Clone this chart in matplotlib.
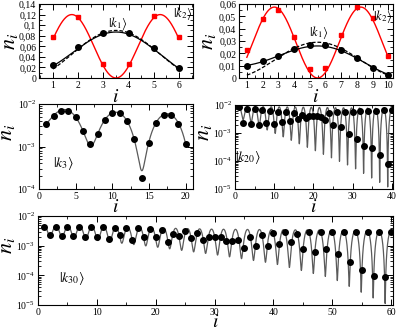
import numpy as np
import matplotlib
matplotlib.use("Agg")
import matplotlib.pyplot as plt
from matplotlib.ticker import FuncFormatter, MultipleLocator, LogLocator, NullFormatter

plt.rcParams['font.family'] = 'serif'
plt.rcParams['font.serif'] = ['Liberation Serif', 'DejaVu Serif']
plt.rcParams['mathtext.fontset'] = 'stix'

# --- data ---
i6 = np.arange(1, 7)
k1_n6 = [0.024, 0.058, 0.085, 0.085, 0.056, 0.018]
k2_n6 = [0.078, 0.115, 0.027, 0.027, 0.117, 0.077]

i10 = np.arange(1, 11)
k1_n10 = [0.0099, 0.0135, 0.018, 0.0237, 0.027, 0.027, 0.0231, 0.016, 0.0083, 0.0022]
k2_n10 = [0.0223, 0.0479, 0.0548, 0.0333, 0.0072, 0.0085, 0.0347, 0.0575, 0.049, 0.018]

i20 = np.arange(1, 21)
k3_n20 = [3.3e-3, 5.3e-3, 7.0e-3, 7.0e-3, 4.9e-3, 2.3e-3, 1.15e-3, 2.0e-3, 4.1e-3, 6.0e-3,
          6.0e-3, 3.9e-3, 1.5e-3, 1.85e-4, 1.2e-3, 3.6e-3, 5.5e-3, 5.5e-3, 3.3e-3, 1.15e-3]

i40 = np.arange(1, 41)
k20_n40 = [8.2e-3, 2.2e-3, 7.4e-3, 2.1e-3, 7.4e-3, 2.0e-3, 6.6e-3, 2.2e-3, 6.2e-3, 2.1e-3,
           5.7e-3, 2.4e-3, 5.6e-3, 2.7e-3, 5.0e-3, 3.2e-3, 4.5e-3, 3.3e-3, 4.0e-3, 4.1e-3,
           4.2e-3, 3.7e-3, 2.8e-3, 5.3e-3, 2.0e-3, 5.5e-3, 1.6e-3, 5.7e-3, 9.0e-4, 5.8e-3,
           6.0e-4, 6.0e-3, 3.5e-4, 6.2e-3, 2.8e-4, 6.3e-3, 1.6e-4, 6.4e-3, 8.0e-5, 6.5e-3]

i60 = np.arange(1, 61)
k30_n60 = [4.3e-3, 2.3e-3, 4.4e-3, 2.1e-3, 4.4e-3, 2.1e-3, 4.3e-3, 2.0e-3, 4.3e-3, 1.9e-3,
           4.3e-3, 1.7e-3, 4.0e-3, 2.3e-3, 3.9e-3, 1.6e-3, 4.0e-3, 1.9e-3, 3.6e-3, 1.9e-3,
           3.3e-3, 1.3e-3, 2.4e-3, 2.2e-3, 3.2e-3, 1.8e-3, 2.6e-3, 1.55e-3, 2.0e-3, 2.0e-3,
           2.0e-3, 1.45e-3, 1.45e-3, 1.5e-3, 8.3e-4, 2.0e-3, 1.0e-3, 2.3e-3, 9.5e-4, 2.7e-3,
           1.1e-3, 2.9e-3, 1.35e-3, 2.5e-3, 7.6e-4, 2.9e-3, 6.3e-4, 2.9e-3, 7.6e-4, 2.9e-3,
           5.3e-4, 2.9e-3, 2.8e-4, 2.9e-3, 1.55e-4, 2.9e-3, 9.3e-5, 2.9e-3, 8.5e-5, 2.9e-3]

# theory curves: peak / dip envelopes (anchor position, value)
tl_peak = ([0, 7], [0.087, 0.087]);  tl_dip = ([0, 7], [0.009, 0.001])
tl_red_amp, tl_dash_amp = 0.12, 0.09
tr_peak = ([0, 11], [0.026, 0.026]); tr_dip = ([0, 11], [0.0098, 0.0])
tr_red_amp, tr_dash_amp = 0.0575, 0.029
k3_peak = ([0, 3.5, 10.5, 17.5, 21], [7.6e-3, 7.4e-3, 6.4e-3, 5.9e-3, 5.7e-3])
k3_dip = ([0, 7, 14, 21], [2.8e-3, 1.05e-3, 2.7e-4, 5e-5])
k20_peak = ([0, 41], [9e-3, 7.5e-3])
k20_dip = ([0, 10, 20, 30, 41], [4e-3, 1e-3, 2.5e-4, 6e-5, 8e-6])
k30_peak = ([0, 30, 61], [4.8e-3, 3.6e-3, 3.2e-3])
k30_dip = ([0, 10, 20, 30, 40, 50, 61], [2.2e-3, 1.5e-3, 9e-4, 5e-4, 2.5e-4, 8e-5, 7e-6])


def env(x, anchors, log=True):
    xs, vs = anchors
    if log:
        return np.exp(np.interp(x, xs, np.log(vs)))
    return np.interp(x, xs, vs)


def theory(x, k, N, peak, dip, log=True):
    s = np.sin(k * np.pi * x / (N + 1)) ** 2
    return env(x, peak, log) * s + env(x, dip, log) * (1 - s)


def comma(v, pos):
    return ('%g' % round(v, 4)).replace('.', ',')


def style(ax, xlab_y, ylab_x, ylab_y, log=False):
    ax.tick_params(which='both', direction='in', top=True, right=True, labelsize=7, pad=2)
    ax.tick_params(which='major', length=4, width=0.7)
    ax.tick_params(which='minor', length=2, width=0.6)
    for s in ax.spines.values():
        s.set_linewidth(0.8)
    if log:
        ax.set_yscale('log')
        ax.yaxis.set_minor_locator(LogLocator(base=10, subs=np.arange(2, 10), numticks=20))
        ax.yaxis.set_minor_formatter(NullFormatter())
    ax.set_xlabel('$i$', fontsize=14)
    ax.xaxis.set_label_coords(0.5, xlab_y)
    ax.set_ylabel('$n_i$', fontsize=16)
    ax.yaxis.set_label_coords(ylab_x, ylab_y)


W, H = 399, 329
fig = plt.figure(figsize=(W / 100, H / 100), dpi=100)


def add_ax(l, t, r, b):
    return fig.add_axes([l / W, 1 - b / H, (r - l) / W, (b - t) / H])


gray = '#5a5a5a'

# top left: N = 6
ax = add_ax(39, 4, 193, 78)
x = np.linspace(1, 6, 300)
ax.plot(x, tl_red_amp * np.sin(2 * np.pi * x / 7) ** 2, color='red', lw=1)
ax.plot(x, tl_dash_amp * np.sin(np.pi * x / 7) ** 2, color='black', lw=0.9, ls=(0, (3, 1.5)))
ax.plot(x, theory(x, 1, 6, tl_peak, tl_dip, log=False), color='black', lw=0.9)
ax.plot(i6, k2_n6, 's', color='red', ms=3.5, mec='red')
ax.plot(i6, k1_n6, 'o', color='black', ms=4)
ax.set_xlim(0.45, 6.55)
ax.set_ylim(0, 0.14)
ax.xaxis.set_major_locator(MultipleLocator(1))
ax.xaxis.set_minor_locator(MultipleLocator(0.5))
ax.yaxis.set_major_locator(MultipleLocator(0.02))
ax.yaxis.set_minor_locator(MultipleLocator(0.01))
ax.yaxis.set_major_formatter(FuncFormatter(comma))
style(ax, -0.15, -0.125, 0.5)
ax.text(3.55, 0.104, r'$|k_1\rangle$', fontsize=9, ha='center', va='center')
ax.text(5.75, 0.122, r'$|k_2\rangle$', fontsize=9, ha='left', va='center')

# top right: N = 10
ax = add_ax(239, 4, 393, 78)
x = np.linspace(1, 10, 400)
ax.plot(x, tr_red_amp * np.sin(2 * np.pi * x / 11) ** 2, color='red', lw=1)
ax.plot(x, tr_dash_amp * np.sin(np.pi * x / 11) ** 2, color='black', lw=0.9, ls=(0, (3, 1.5)))
ax.plot(x, theory(x, 1, 10, tr_peak, tr_dip, log=False), color='black', lw=0.9)
ax.plot(i10, k2_n10, 's', color='red', ms=3.5, mec='red')
ax.plot(i10, k1_n10, 'o', color='black', ms=4)
ax.set_xlim(0.5, 10.3)
ax.set_ylim(0, 0.06)
ax.xaxis.set_major_locator(MultipleLocator(1))
ax.xaxis.set_minor_locator(MultipleLocator(0.5))
ax.yaxis.set_major_locator(MultipleLocator(0.01))
ax.yaxis.set_minor_locator(MultipleLocator(0.005))
ax.yaxis.set_major_formatter(FuncFormatter(comma))
style(ax, -0.15, -0.136, 0.5)
ax.text(5.56, 0.0366, r'$|k_1\rangle$', fontsize=9, ha='center', va='center')
ax.text(9.66, 0.0498, r'$|k_2\rangle$', fontsize=9, ha='center', va='center')

# middle left: |k3>, N = 20
ax = add_ax(39, 104, 193, 189)
x = np.linspace(1, 20, 800)
ax.plot(x, theory(x, 3, 20, k3_peak, k3_dip), color=gray, lw=0.9)
ax.plot(i20, k3_n20, 'o', color='black', ms=4)
style(ax, -0.12, -0.14, 0.67, log=True)
ax.set_xlim(0, 21)
ax.set_ylim(1e-4, 1e-2)
ax.xaxis.set_major_locator(MultipleLocator(5))
ax.xaxis.set_minor_locator(MultipleLocator(2.5))
ax.text(3.3, 10 ** -3.4, r'$|k_3\rangle$', fontsize=10, ha='center', va='center')

# middle right: |k20>, N = 40
ax = add_ax(235, 105, 393, 189)
x = np.linspace(1, 40, 3000)
ax.plot(x, theory(x, 20, 40, k20_peak, k20_dip), color=gray, lw=0.9)
ax.plot(i40, k20_n40, 'o', color='black', ms=4)
style(ax, -0.12, -0.13, 0.67, log=True)
ax.set_xlim(0, 40.3)
ax.set_ylim(1e-5, 1e-2)
ax.xaxis.set_major_locator(MultipleLocator(10))
ax.xaxis.set_minor_locator(MultipleLocator(5))
ax.text(3.2, 10 ** -3.88, r'$|k_{20}\rangle$', fontsize=10, ha='center', va='center')

# bottom: |k30>, N = 60
ax = add_ax(38, 216, 393, 305)
x = np.linspace(1, 60, 5000)
ax.plot(x, theory(x, 30, 60, k30_peak, k30_dip), color=gray, lw=0.9)
ax.plot(i60, k30_n60, 'o', color='black', ms=4)
style(ax, -0.1, -0.06, 0.67, log=True)
ax.set_xlim(0, 60.3)
ax.set_ylim(1e-5, 1e-2)
ax.xaxis.set_major_locator(MultipleLocator(10))
ax.xaxis.set_minor_locator(MultipleLocator(5))
ax.text(5.7, 10 ** -4.09, r'$|k_{30}\rangle$', fontsize=10, ha='center', va='center')

fig.savefig('out.png', dpi=100)
